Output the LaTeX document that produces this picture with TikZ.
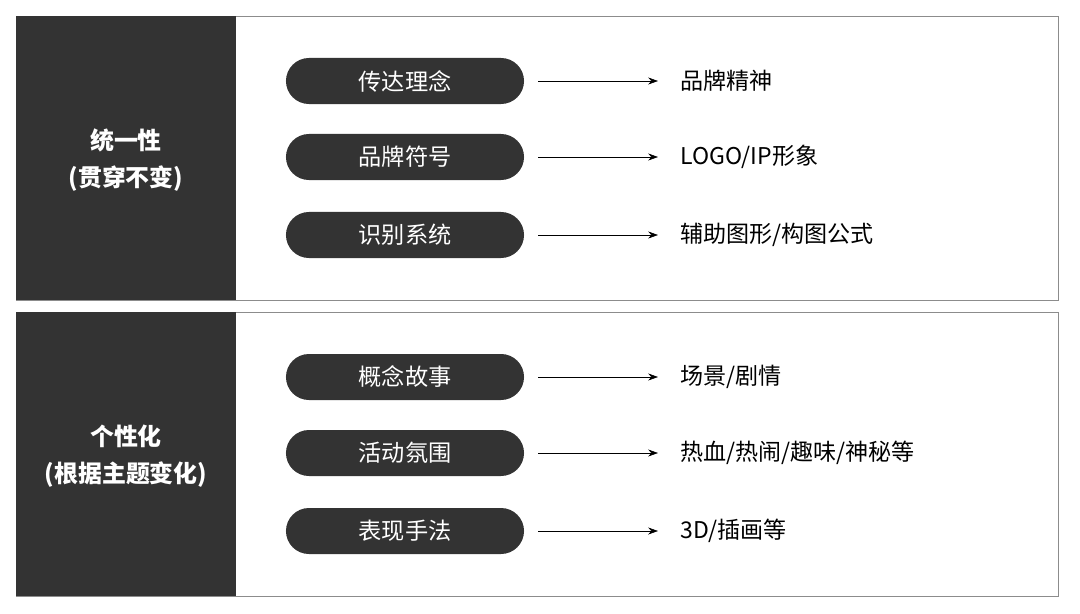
\documentclass[tikz,border=0pt]{standalone}
\usepackage{fontspec}
\setmainfont{Noto Sans CJK SC}
\usetikzlibrary{arrows.meta}
\definecolor{darkfill}{HTML}{333333}
\definecolor{framegray}{HTML}{8C8C8C}
\tikzset{
  pill/.style={fill=darkfill, text=white, rounded corners=0.575cm,
    minimum width=5.95cm, minimum height=1.15cm, font=\fontsize{16.5}{18}\selectfont},
  result/.style={anchor=west, inner sep=0pt, font=\fontsize{16.4}{18}\selectfont},
  sidetitle/.style={text=white, align=center, font=\fontsize{17}{26}\selectfont\bfseries},
  link/.style={-{Stealth[length=7pt,width=5pt]}, thin}
}
\begin{document}
\begin{tikzpicture}[x=0.025cm, y=-0.025cm]
    \useasboundingbox (0,0) rectangle (1080,613);
    % top panel
    \draw[framegray] (16,16) rectangle (1058,300);
    \fill[darkfill] (16,16) rectangle (236,300);
    \node[sidetitle] (unity) at (126,160) {统一性\\(贯穿不变)};
    \node[pill] (idea) at (405,81) {传达理念};
    \node[pill] (symbol) at (405,157) {品牌符号};
    \node[pill] (system) at (405,235) {识别系统};
    \node[result] (spirit) at (680,81) {品牌精神};
    \node[result] (logo) at (680,157) {LOGO/IP形象};
    \node[result] (graphic) at (680,235) {辅助图形/构图公式};
    \draw[link] (idea.east) ++(14,0) -- ([xshift=-0.55cm]spirit.west);
    \draw[link] (symbol.east) ++(14,0) -- ([xshift=-0.55cm]logo.west);
    \draw[link] (system.east) ++(14,0) -- ([xshift=-0.55cm]graphic.west);
    % bottom panel
    \draw[framegray] (16,312) rectangle (1058,596);
    \fill[darkfill] (16,312) rectangle (236,596);
    \node[sidetitle] (variety) at (126,456) {个性化\\(根据主题变化)};
    \node[pill] (story) at (405,377) {概念故事};
    \node[pill] (mood) at (405,453) {活动氛围};
    \node[pill] (style) at (405,531) {表现手法};
    \node[result] (scene) at (680,377) {场景/剧情};
    \node[result] (passion) at (680,453) {热血/热闹/趣味/神秘等};
    \node[result] (render) at (680,531) {3D/插画等};
    \draw[link] (story.east) ++(14,0) -- ([xshift=-0.55cm]scene.west);
    \draw[link] (mood.east) ++(14,0) -- ([xshift=-0.55cm]passion.west);
    \draw[link] (style.east) ++(14,0) -- ([xshift=-0.55cm]render.west);
\end{tikzpicture}
\end{document}
